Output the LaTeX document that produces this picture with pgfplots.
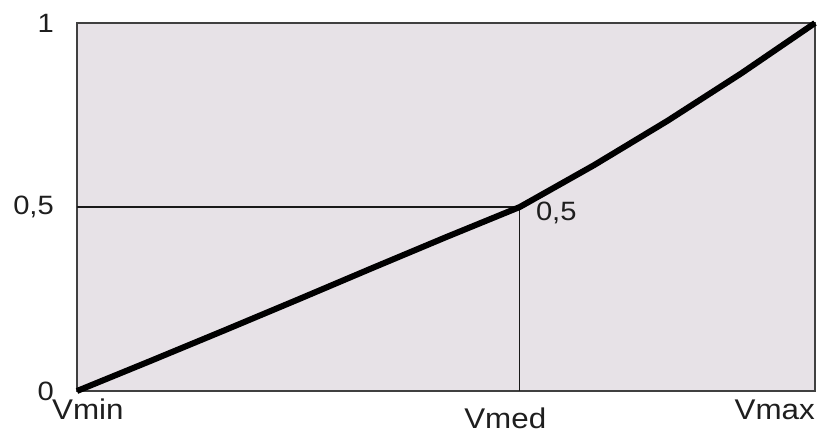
\documentclass[border=0pt]{standalone}
\usepackage{pgfplots}
\pgfplotsset{compat=1.18}
\usepackage{fontspec}
\setmainfont{Liberation Sans}[FakeStretch=1.1]
\definecolor{bg}{RGB}{231,226,231}
\definecolor{txt}{RGB}{30,30,30}
\begin{document}
\begin{tikzpicture}
\begin{axis}[name=ax, scale only axis, width=738pt, height=368pt,
  xmin=0, xmax=1, ymin=0, ymax=1,
  axis background/.style={fill=bg},
  axis line style={draw=black!75, line width=1.3pt},
  xtick=\empty, ytick={0,0.5,1}, yticklabels={0,{0,5},1},
  major tick length=0pt,
  yticklabel style={font=\fontsize{26.5}{31}\selectfont, text=txt, inner sep=0pt, xshift=-23pt},
  /pgf/number format/assume math mode=true,
  clip=false]
\addplot[black!90, line width=1.1pt] coordinates {(0,0.5) (0.6,0.5) (0.6,0)};
\addplot[black, line width=6pt, line join=round] coordinates {
  (0,0) (0.1,0.082) (0.2,0.165) (0.3,0.249) (0.4,0.334) (0.5,0.418) (0.6,0.5)
  (0.7,0.613) (0.8,0.734) (0.9,0.863) (1,1)};
\node[anchor=base west, font=\fontsize{26.5}{31}\selectfont, text=txt, inner sep=0pt, xshift=16pt, yshift=-14pt] at (axis cs:0.6,0.5) {0,5};
\node[anchor=base west, font=\fontsize{28.5}{33}\selectfont, text=txt, inner sep=0pt, xshift=-25pt, yshift=-29pt] at (axis cs:0,0) {Vmin};
\node[anchor=base west, font=\fontsize{28.5}{33}\selectfont, text=txt, inner sep=0pt, xshift=-55.7pt, yshift=-38pt] at (axis cs:0.6,0) {Vmed};
\node[anchor=base east, font=\fontsize{28.5}{33}\selectfont, text=txt, inner sep=0pt, yshift=-29pt] at (axis cs:1,0) {Vmax};
\path (rel axis cs:0,0) ++(-77pt,-44pt) rectangle ++(819pt,435pt);
\end{axis}
\end{tikzpicture}
\end{document}
